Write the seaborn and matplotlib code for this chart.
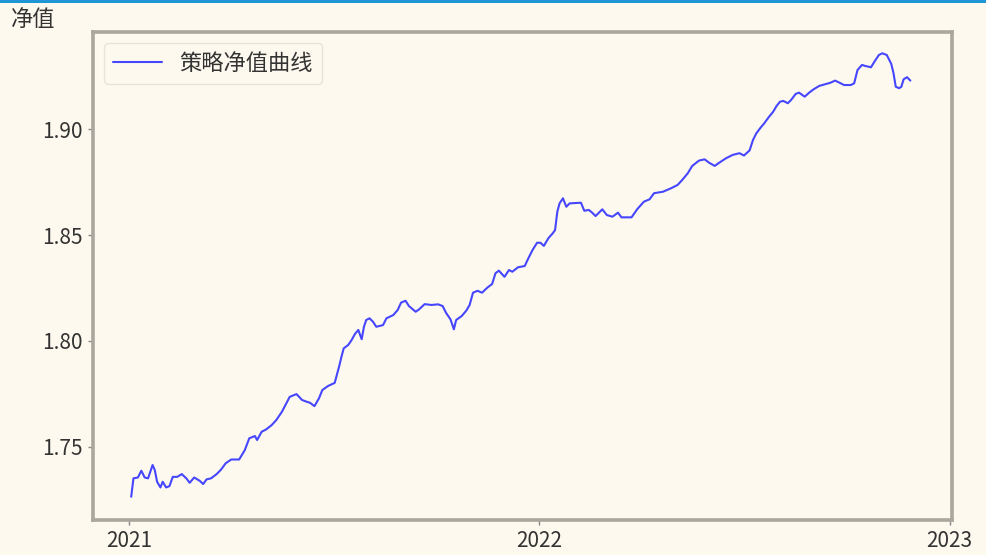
import matplotlib.pyplot as plt
import matplotlib.dates as mdates
import pandas as pd
import seaborn as sns

# values
dates = [
    "2021-01-03", "2021-01-05", "2021-01-09", "2021-01-12", "2021-01-15", "2021-01-18",
    "2021-01-22", "2021-01-24", "2021-01-26", "2021-01-29", "2021-01-31", "2021-02-03",
    "2021-02-06", "2021-02-09", "2021-02-13", "2021-02-17", "2021-02-21", "2021-02-24",
    "2021-02-28", "2021-03-05", "2021-03-08", "2021-03-11", "2021-03-15", "2021-03-20",
    "2021-03-24", "2021-03-28", "2021-04-02", "2021-04-09", "2021-04-14", "2021-04-18",
    "2021-04-23", "2021-04-25", "2021-04-29", "2021-05-03", "2021-05-08", "2021-05-12",
    "2021-05-17", "2021-05-21", "2021-05-24", "2021-05-30", "2021-06-04", "2021-06-08",
    "2021-06-11", "2021-06-15", "2021-06-19", "2021-06-22", "2021-06-27", "2021-07-03",
    "2021-07-07", "2021-07-09", "2021-07-11", "2021-07-15", "2021-07-18", "2021-07-21",
    "2021-07-24", "2021-07-27", "2021-07-29", "2021-07-31", "2021-08-03", "2021-08-06",
    "2021-08-09", "2021-08-15", "2021-08-18", "2021-08-24", "2021-08-28", "2021-08-31",
    "2021-09-04", "2021-09-07", "2021-09-13", "2021-09-16", "2021-09-21", "2021-09-27",
    "2021-10-03", "2021-10-07", "2021-10-10", "2021-10-14", "2021-10-17", "2021-10-19",
    "2021-10-24", "2021-10-28", "2021-10-31", "2021-11-03", "2021-11-07", "2021-11-11",
    "2021-11-16", "2021-11-20", "2021-11-23", "2021-11-26", "2021-12-01", "2021-12-05",
    "2021-12-08", "2021-12-13", "2021-12-19", "2021-12-22", "2021-12-26", "2021-12-30",
    "2022-01-02", "2022-01-05", "2022-01-09", "2022-01-13", "2022-01-15", "2022-01-17",
    "2022-01-19", "2022-01-22", "2022-01-25", "2022-01-28", "2022-02-07", "2022-02-10",
    "2022-02-14", "2022-02-17", "2022-02-20", "2022-02-26", "2022-03-02", "2022-03-07",
    "2022-03-12", "2022-03-15", "2022-03-19", "2022-03-24", "2022-03-29", "2022-04-04",
    "2022-04-09", "2022-04-13", "2022-04-21", "2022-04-28", "2022-05-04", "2022-05-08",
    "2022-05-13", "2022-05-17", "2022-05-23", "2022-05-28", "2022-06-01", "2022-06-06",
    "2022-06-10", "2022-06-16", "2022-06-22", "2022-06-28", "2022-07-02", "2022-07-07",
    "2022-07-10", "2022-07-13", "2022-07-17", "2022-07-20", "2022-07-24", "2022-07-28",
    "2022-07-31", "2022-08-03", "2022-08-06", "2022-08-10", "2022-08-13", "2022-08-17",
    "2022-08-20", "2022-08-25", "2022-08-29", "2022-09-02", "2022-09-07", "2022-09-13",
    "2022-09-17", "2022-09-21", "2022-09-25", "2022-09-29", "2022-10-05", "2022-10-08",
    "2022-10-11", "2022-10-15", "2022-10-18", "2022-10-23", "2022-10-26", "2022-10-30",
    "2022-11-02", "2022-11-06", "2022-11-10", "2022-11-12", "2022-11-14", "2022-11-17",
    "2022-11-19", "2022-11-21", "2022-11-24", "2022-11-27",
]
nav = [
    1.7264, 1.7351, 1.7355, 1.7387, 1.7355, 1.7351,
    1.7414, 1.7390, 1.7335, 1.7308, 1.7335, 1.7308,
    1.7314, 1.7358, 1.7358, 1.7371, 1.7351, 1.7330,
    1.7355, 1.7339, 1.7324, 1.7346, 1.7351, 1.7371,
    1.7393, 1.7422, 1.7440, 1.7440, 1.7484, 1.7540,
    1.7551, 1.7532, 1.7571, 1.7582, 1.7603, 1.7626,
    1.7665, 1.7705, 1.7736, 1.7749, 1.7721, 1.7713,
    1.7708, 1.7692, 1.7729, 1.7768, 1.7787, 1.7802,
    1.7881, 1.7925, 1.7965, 1.7981, 1.8004, 1.8033,
    1.8052, 1.8008, 1.8067, 1.8099, 1.8107, 1.8091,
    1.8067, 1.8075, 1.8107, 1.8122, 1.8146, 1.8181,
    1.8190, 1.8165, 1.8138, 1.8149, 1.8174, 1.8170,
    1.8173, 1.8165, 1.8133, 1.8102, 1.8055, 1.8099,
    1.8118, 1.8143, 1.8170, 1.8228, 1.8237, 1.8228,
    1.8253, 1.8269, 1.8320, 1.8332, 1.8303, 1.8335,
    1.8327, 1.8348, 1.8354, 1.8388, 1.8430, 1.8464,
    1.8464, 1.8449, 1.8485, 1.8509, 1.8524, 1.8611,
    1.8650, 1.8674, 1.8634, 1.8650, 1.8653, 1.8615,
    1.8619, 1.8606, 1.8590, 1.8622, 1.8595, 1.8587,
    1.8606, 1.8584, 1.8584, 1.8584, 1.8622, 1.8658,
    1.8669, 1.8698, 1.8705, 1.8721, 1.8737, 1.8760,
    1.8792, 1.8827, 1.8852, 1.8858, 1.8842, 1.8827,
    1.8842, 1.8863, 1.8879, 1.8887, 1.8876, 1.8900,
    1.8949, 1.8981, 1.9009, 1.9028, 1.9057, 1.9083,
    1.9110, 1.9130, 1.9134, 1.9123, 1.9139, 1.9167,
    1.9173, 1.9154, 1.9173, 1.9189, 1.9205, 1.9214,
    1.9220, 1.9230, 1.9220, 1.9209, 1.9209, 1.9217,
    1.9280, 1.9304, 1.9299, 1.9293, 1.9319, 1.9351,
    1.9359, 1.9351, 1.9309, 1.9265, 1.9201, 1.9194,
    1.9201, 1.9236, 1.9246, 1.9230,
]
y_ticks = [1.75, 1.80, 1.85, 1.90]

BG = "#fdf9ee"
SPINE = "#aca79c"
TEXT = "#333333"


def main():
    df = pd.DataFrame({"date": pd.to_datetime(dates), "nav": nav})

    sns.set_style("ticks")
    plt.rcParams["font.family"] = ["Noto Sans CJK SC", "DejaVu Sans"]

    fig = plt.figure(figsize=(9.87, 5.55), dpi=100, facecolor=BG)
    ax = fig.add_axes([0.0942, 0.063, 0.8703, 0.8799])
    ax.set_facecolor(BG)

    sns.lineplot(data=df, x="date", y="nav", ax=ax, color="#4646ff",
                 linewidth=1.5, label="策略净值曲线")

    ax.set_xlim(pd.Timestamp("2020-11-30"), pd.Timestamp("2023-01-03"))
    ax.set_ylim(1.7154, 1.9461)
    ax.set_yticks(y_ticks)
    ax.yaxis.set_major_formatter(plt.FormatStrFormatter("%.2f"))
    ax.xaxis.set_major_locator(mdates.YearLocator())
    ax.xaxis.set_major_formatter(mdates.DateFormatter("%Y"))

    ax.set_xlabel("")
    ax.set_ylabel("净值", rotation=0, fontsize=16, color=TEXT,
                  ha="center", va="center")
    ax.yaxis.set_label_coords(-0.07, 1.025)

    for side in ["left", "right", "top", "bottom"]:
        ax.spines[side].set_visible(True)
        ax.spines[side].set_color(SPINE)
        ax.spines[side].set_linewidth(2.6)
    ax.tick_params(axis="both", labelsize=15, labelcolor=TEXT, color="#888888",
                   length=3.5, width=1, pad=4)

    leg = ax.legend(loc="upper left", fontsize=16, handlelength=2.2,
                    frameon=True, fancybox=True)
    leg.get_frame().set_facecolor(BG)
    leg.get_frame().set_edgecolor("#e2dfd8")
    for t in leg.get_texts():
        t.set_color(TEXT)

    # thin blue strip along the top edge of the screenshot
    fig.add_artist(plt.Rectangle((0, 1 - 2.5 / 555), 1, 2.5 / 555,
                                 transform=fig.transFigure, color="#1f96d6",
                                 linewidth=0))

    fig.savefig("out.png", dpi=100, facecolor=BG)


if __name__ == "__main__":
    main()
